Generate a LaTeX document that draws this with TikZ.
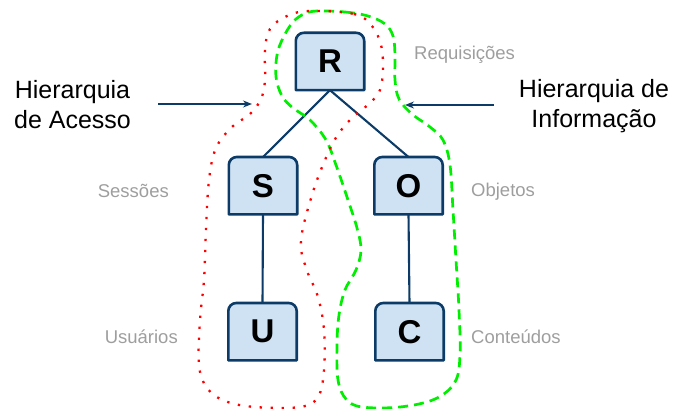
\documentclass[tikz,border=0pt]{standalone}
\usepackage{fontspec}
\setmainfont{Liberation Sans}
\usetikzlibrary{arrows.meta}
\definecolor{navy}{HTML}{0B3B66}
\definecolor{boxfill}{HTML}{CFE2F3}
\definecolor{lgray}{HTML}{9E9E9E}
\definecolor{vgreen}{HTML}{00EE00}
\definecolor{vred}{HTML}{FF0000}
\pgfdeclarelayer{bg}
\pgfsetlayers{bg,main}
\newcommand\topround[1]{%
  \filldraw[boxline] (#1.south west) -- ([yshift=-8pt]#1.north west)
    arc[start angle=180,end angle=90,radius=8pt]
    -- ([xshift=-8pt]#1.north east)
    arc[start angle=90,end angle=0,radius=8pt]
    -- (#1.south east) -- cycle;}
\begin{document}
\begin{tikzpicture}[x=1pt,y=-1pt,
  box/.style={minimum width=68pt,minimum height=57pt,inner sep=0pt,
    font=\bfseries\fontsize{33}{33}\selectfont},
  boxline/.style={draw=navy,fill=boxfill,line width=2.6pt,line join=round},
  edge/.style={draw=navy,line width=2.1pt},
  glabel/.style={text=lgray,font=\fontsize{18.5}{22}\selectfont,inner sep=0pt},
  hlabel/.style={align=center,font=\fontsize{25}{30}\selectfont,inner sep=0pt},
  pointer/.style={draw=navy,line width=1.4pt,-{Stealth[length=9pt,width=7pt]}},
  accesscurve/.style={draw=vred,line width=2.3pt,dash pattern=on 2.3pt off 8.7pt},
  infocurve/.style={draw=vgreen,line width=2.7pt,dash pattern=on 10pt off 6pt}]
\useasboundingbox (0,0) rectangle (675,409);

% boxes
\node[box] (R) at (330,61.5) {R};
\node[box] (S) at (263,185.7) {S};
\node[box] (O) at (408.5,185.7) {O};
\node[box] (U) at (262.5,331.7) {U};
\node[box] (C) at (409.5,331.7) {C};
\begin{pgfonlayer}{bg}
\topround{R}\topround{S}\topround{O}\topround{U}\topround{C}
\end{pgfonlayer}

% edges
\draw[edge] (R.south) -- (S.north);
\draw[edge] (R.south) -- (O.north);
\draw[edge] (S.south) -- (U.north);
\draw[edge] (O.south) -- (C.north);

% gray labels
\node[glabel,anchor=west] (lreq) at (414,55) {Requisições};
\node[glabel,anchor=east] (lses) at (169,191) {Sessões};
\node[glabel,anchor=east] (lusu) at (178,337) {Usuários};
\node[glabel,anchor=west] (lobj) at (471,192) {Objetos};
\node[glabel,anchor=west] (lcon) at (471,337) {Conteúdos};

% side titles
\node[hlabel] (hacc) at (72.5,105) {Hierarquia\\de Acesso};
\node[hlabel] (hinf) at (594,106) {Hierarquia de\\Informação};
\coordinate (accstart) at (158,104);
\coordinate (accend) at (252,104);
\coordinate (infstart) at (494,105);
\coordinate (infend) at (405,105);
\draw[pointer] (accstart) -- (accend);
\draw[pointer] (infstart) -- (infend);

% information hierarchy curve (green dashed)
\draw[infocurve] plot[smooth cycle,tension=0.6] coordinates {
 (317,11) (345,12) (368,16) (385,24) (393,36) (395,55) (395,80) (399,99)
 (412,114) (430,127) (443,140) (450,165) (453,210) (456,260) (459,310)
 (460,355) (455,382) (435,399) (400,407) (362,407) (346,399) (338,380)
 (337,345) (339,315) (345,290) (356,270) (361,250) (357,228) (348,200)
 (336,165) (326,140) (310,120) (293,108) (282,96) (276,77) (277,55)
 (283,38) (293,22) (304,14)};

% access hierarchy curve (red dotted)
\draw[accesscurve] plot[smooth cycle,tension=0.6] coordinates {
 (310,11) (354,14) (372,26) (381,45) (383,68) (380,90) (370,103) (352,118)
 (337,136) (325,160) (312,195) (301,240) (306,268) (318,297) (324,330)
 (324,370) (318,397) (300,407) (255,407) (225,401) (207,388) (199,365)
 (200,320) (204,280) (206,230) (209,180) (216,148) (232,127) (250,114)
 (261,99) (265,80) (265,50) (270,29) (287,16)};
\end{tikzpicture}
\end{document}
